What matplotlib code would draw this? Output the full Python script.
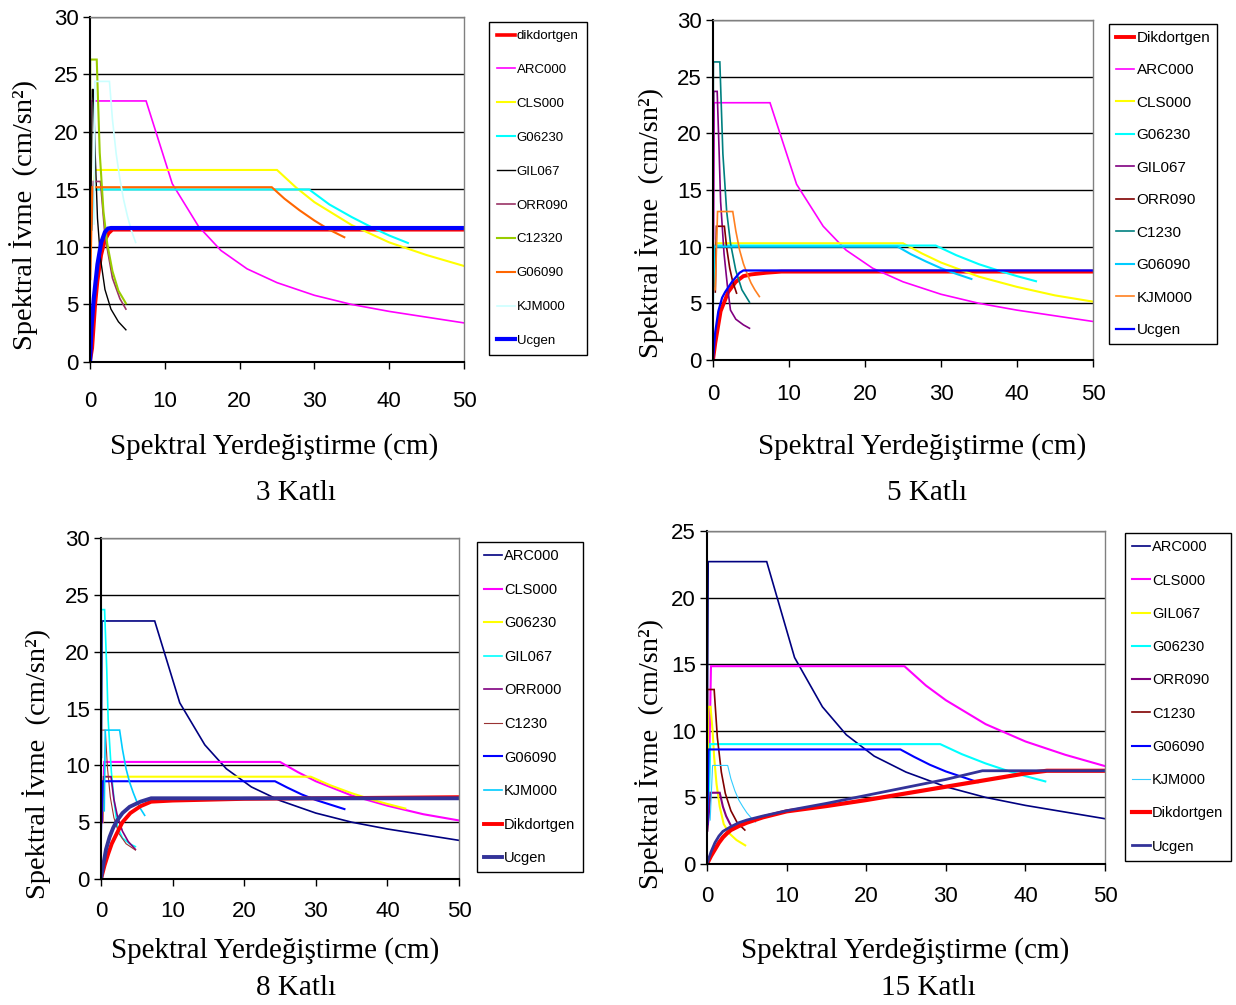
import matplotlib
matplotlib.use("Agg")
import matplotlib.pyplot as plt

# ── Figure geometry (pixels) ──────────────────────────────────────────
W, H = 1236, 1005
DPI = 100

NARROW = ["Liberation Sans Narrow", "Liberation Sans", "DejaVu Sans"]
SERIF = ["Liberation Serif", "DejaVu Serif"]

plt.rcParams["font.family"] = NARROW

XLABEL = "Spektral Yerdeğiştirme (cm)"
YLABEL = "Spektral İvme  (cm/sn²)"
TITLES = ["3 Katlı", "5 Katlı", "8 Katlı", "15 Katlı"]

# ── Data ──────────────────────────────────────────────────────────────
# ARC000 demand curve is the same in all four panels
ARC000_X = [0.05, 0.15, 7.5, 11, 14.5, 17.5, 21, 25, 30, 35, 40, 45, 50]
ARC000_Y = [10.7, 22.7, 22.7, 15.5, 11.8, 9.7, 8.1, 6.9, 5.8, 5.0, 4.4, 3.9, 3.4]

# 3 Katli
K3_DIK_X = [0, 0.3, 0.7, 1.0, 1.5, 2.0, 2.5, 3.0, 50]
K3_DIK_Y = [0, 1.2, 5.0, 7.0, 9.3, 10.6, 11.2, 11.5, 11.5]
K3_CLS000_X = [0.4, 0.7, 25, 27.5, 30, 35, 40, 45, 50]
K3_CLS000_Y = [14.5, 16.7, 16.7, 15.2, 13.9, 11.9, 10.4, 9.3, 8.35]
K3_G06230_X = [0.2, 0.5, 29.3, 32, 35, 38, 40, 42.5]
K3_G06230_Y = [11.5, 15.0, 15.0, 13.7, 12.6, 11.6, 11.0, 10.35]
K3_GIL067_X = [0.1, 0.3, 0.45, 0.7, 1.0, 1.4, 2.0, 2.8, 3.8, 4.8]
K3_GIL067_Y = [12.0, 23.7, 23.7, 18.0, 12.5, 9.0, 6.3, 4.6, 3.5, 2.8]
K3_ORR090_X = [0.2, 0.45, 1.4, 2.0, 3.0, 4.0, 4.8]
K3_ORR090_Y = [11.5, 15.7, 15.7, 11.0, 7.3, 5.5, 4.6]
K3_C12320_X = [0, 0.03, 0.9, 1.3, 1.8, 2.3, 3.0, 3.8, 4.8]
K3_C12320_Y = [11.5, 26.3, 26.3, 18.2, 13.1, 10.3, 7.9, 6.2, 5.1]
K3_G06090_X = [0.05, 0.3, 24.3, 26, 28, 30, 32, 34]
K3_G06090_Y = [7.2, 15.2, 15.2, 14.2, 13.2, 12.3, 11.5, 10.85]
K3_KJM000_X = [0.55, 0.65, 2.6, 3.0, 3.5, 4.0, 4.5, 5.0, 5.5, 6.1]
K3_KJM000_Y = [12.0, 24.4, 24.4, 21.1, 18.1, 15.9, 14.1, 12.7, 11.5, 10.4]
K3_UCGEN_X = [0, 0.2, 0.5, 1.0, 1.5, 2.0, 2.4, 2.8, 50]
K3_UCGEN_Y = [0, 3.0, 5.5, 8.5, 10.4, 11.3, 11.6, 11.65, 11.65]

# 5 Katli
K5_DIK_X = [0, 0.3, 1, 2, 3, 4, 5, 7, 9, 50]
K5_DIK_Y = [0, 1.5, 4.3, 6.0, 6.9, 7.4, 7.55, 7.7, 7.8, 7.8]
K5_CLS000_X = [0.1, 0.4, 25, 27.5, 30, 35, 40, 45, 50]
K5_CLS000_Y = [6.8, 10.3, 10.3, 9.4, 8.6, 7.35, 6.45, 5.7, 5.15]
K5_G06230_X = [0.1, 0.3, 29.3, 32, 35, 38, 40, 42.5]
K5_G06230_Y = [6.5, 10.1, 10.1, 9.25, 8.45, 7.8, 7.4, 6.95]
K5_GIL067_X = [0.05, 0.1, 0.55, 0.8, 1.0, 1.45, 1.9, 2.3, 3.0, 4.0, 4.8]
K5_GIL067_Y = [10.0, 23.7, 23.7, 18.5, 14.0, 9.4, 6.5, 4.4, 3.6, 3.1, 2.8]
K5_ORR090_X = [0.3, 0.45, 1.5, 1.8, 2.2, 2.6, 3.1]
K5_ORR090_Y = [6.0, 11.8, 11.8, 9.9, 8.1, 6.9, 5.9]
K5_C1230_X = [0, 0.05, 0.9, 1.3, 1.8, 2.3, 3.0, 3.8, 4.8]
K5_C1230_Y = [12.0, 26.3, 26.3, 18.2, 13.1, 10.3, 7.9, 6.2, 5.1]
K5_G06090_X = [0, 0.1, 24.3, 26, 28, 30, 32, 34]
K5_G06090_Y = [4.7, 10.0, 10.0, 9.35, 8.7, 8.1, 7.6, 7.15]
K5_KJM000_X = [0.3, 0.6, 2.6, 3.0, 3.5, 4.0, 4.5, 5.0, 5.5, 6.1]
K5_KJM000_Y = [6.2, 13.1, 13.1, 11.4, 9.7, 8.5, 7.6, 6.8, 6.2, 5.6]
K5_UCGEN_X = [0, 0.3, 0.7, 1.2, 1.6, 2.0, 2.5, 3.0, 3.5, 4.0, 50]
K5_UCGEN_Y = [0, 2.5, 4.3, 5.5, 6.0, 6.4, 6.9, 7.3, 7.7, 7.9, 7.9]

# 8 Katli
K8_CLS000_X = [0.2, 0.45, 25, 27.5, 30, 35, 40, 45, 50]
K8_CLS000_Y = [5.0, 10.3, 10.3, 9.4, 8.6, 7.35, 6.45, 5.7, 5.15]
K8_G06230_X = [0.2, 0.4, 29.3, 32, 35, 38, 40, 42.5]
K8_G06230_Y = [5.0, 9.0, 9.0, 8.25, 7.55, 6.95, 6.6, 6.2]
K8_GIL067_X = [0, 0.05, 0.5, 0.8, 1.0, 1.45, 1.9, 2.3, 3.0, 4.0, 4.8]
K8_GIL067_Y = [5.0, 23.7, 23.7, 18.5, 14.0, 9.4, 6.5, 4.6, 3.6, 3.1, 2.85]
K8_ORR000_X = [0.2, 0.35, 1.4, 1.8, 2.3, 3.0, 3.8, 4.8]
K8_ORR000_Y = [5.0, 9.0, 9.0, 7.0, 5.5, 4.2, 3.3, 2.6]
K8_C1230_X = [0, 0.05, 0.6, 0.9, 1.3, 1.8, 2.5, 3.5, 4.8]
K8_C1230_Y = [6.0, 13.1, 13.1, 9.8, 7.2, 5.4, 4.0, 3.1, 2.55]
K8_G06090_X = [0, 0.2, 24.3, 26, 28, 30, 32, 34]
K8_G06090_Y = [4.1, 8.6, 8.6, 8.05, 7.45, 6.95, 6.55, 6.15]
K8_KJM000_X = [0.45, 0.6, 2.6, 3.0, 3.5, 4.0, 4.5, 5.0, 5.5, 6.1]
K8_KJM000_Y = [6.0, 13.1, 13.1, 11.4, 9.7, 8.5, 7.6, 6.8, 6.2, 5.6]
K8_DIK_X = [0, 0.5, 1, 1.5, 2.2, 3, 4.1, 5.5, 7, 10, 20, 50]
K8_DIK_Y = [0, 1.2, 2.2, 3.1, 4.0, 5.0, 5.8, 6.4, 6.8, 6.9, 7.05, 7.2]
K8_UCGEN_X = [0, 0.3, 0.7, 1.2, 1.7, 2.2, 3, 4, 5.5, 7, 50]
K8_UCGEN_Y = [0, 1.2, 2.6, 3.7, 4.5, 5.1, 5.8, 6.35, 6.8, 7.1, 7.1]

# 15 Katli
K15_CLS000_X = [0.2, 0.5, 24.8, 27.5, 30, 35, 40, 45, 50]
K15_CLS000_Y = [5.0, 14.85, 14.85, 13.4, 12.3, 10.5, 9.2, 8.2, 7.35]
K15_GIL067_X = [0.05, 0.15, 0.45, 0.7, 0.9, 1.2, 1.6, 2.1, 2.8, 3.7, 4.8]
K15_GIL067_Y = [3.0, 11.8, 11.8, 10.0, 8.0, 6.0, 4.3, 3.0, 2.3, 1.8, 1.4]
K15_G06230_X = [0.2, 0.4, 29.3, 32, 35, 38, 40, 42.5]
K15_G06230_Y = [3.5, 9.0, 9.0, 8.25, 7.55, 6.95, 6.6, 6.2]
K15_ORR090_X = [0.05, 0.45, 1.6, 2.0, 2.4, 2.9, 3.3]
K15_ORR090_Y = [2.5, 5.35, 5.35, 4.3, 3.6, 3.0, 2.6]
K15_C1230_X = [0, 0.05, 0.9, 1.3, 1.8, 2.3, 3.0, 3.8, 4.75]
K15_C1230_Y = [3.0, 13.1, 13.1, 9.5, 6.9, 5.3, 4.0, 3.1, 2.55]
K15_G06090_X = [0.05, 0.2, 24.3, 26, 28, 30, 32, 34]
K15_G06090_Y = [3.0, 8.6, 8.6, 8.05, 7.45, 6.95, 6.55, 6.15]
K15_KJM000_X = [0.4, 0.7, 2.6, 3.0, 3.5, 4.0, 4.5, 5.0, 5.5, 6.1]
K15_KJM000_Y = [3.3, 7.4, 7.4, 6.4, 5.5, 4.8, 4.3, 3.85, 3.5, 3.15]
K15_DIK_X = [0, 0.5, 1, 1.5, 2, 2.5, 3, 4, 5, 7, 10, 15, 20, 25, 30, 35, 40, 42.7, 50]
K15_DIK_Y = [0, 0.6, 1.1, 1.6, 2.0, 2.3, 2.55, 2.85, 3.1, 3.5, 3.95, 4.35, 4.8, 5.3, 5.8, 6.3, 6.8, 7.0, 7.0]
K15_UCGEN_X = [0, 0.5, 1, 1.5, 2, 3, 4, 5, 7, 10, 15, 20, 25, 30, 34.6, 50]
K15_UCGEN_Y = [0, 0.9, 1.6, 2.1, 2.45, 2.8, 3.1, 3.3, 3.6, 4.0, 4.55, 5.15, 5.75, 6.35, 7.0, 7.0]

# ── Series tables: (label, x, y, colour, linewidth) ───────────────────
SERIES_3 = [
    ("dikdortgen", K3_DIK_X, K3_DIK_Y, "#FF0000", 2.6),
    ("ARC000", ARC000_X, ARC000_Y, "#FF00FF", 1.2),
    ("CLS000", K3_CLS000_X, K3_CLS000_Y, "#FFFF00", 1.5),
    ("G06230", K3_G06230_X, K3_G06230_Y, "#00FFFF", 1.5),
    ("GIL067", K3_GIL067_X, K3_GIL067_Y, "#000000", 1.0),
    ("ORR090", K3_ORR090_X, K3_ORR090_Y, "#993366", 1.2),
    ("C12320", K3_C12320_X, K3_C12320_Y, "#99CC00", 1.5),
    ("G06090", K3_G06090_X, K3_G06090_Y, "#FF6600", 1.5),
    ("KJM000", K3_KJM000_X, K3_KJM000_Y, "#CCFFFF", 1.2),
    ("Ucgen", K3_UCGEN_X, K3_UCGEN_Y, "#0000FF", 3.0),
]
SERIES_5 = [
    ("Dikdortgen", K5_DIK_X, K5_DIK_Y, "#FF0000", 2.8),
    ("ARC000", ARC000_X, ARC000_Y, "#FF00FF", 1.2),
    ("CLS000", K5_CLS000_X, K5_CLS000_Y, "#FFFF00", 1.5),
    ("G06230", K5_G06230_X, K5_G06230_Y, "#00FFFF", 1.5),
    ("GIL067", K5_GIL067_X, K5_GIL067_Y, "#800080", 1.2),
    ("ORR090", K5_ORR090_X, K5_ORR090_Y, "#800000", 1.2),
    ("C1230", K5_C1230_X, K5_C1230_Y, "#008080", 1.2),
    ("G06090", K5_G06090_X, K5_G06090_Y, "#00CCFF", 1.5),
    ("KJM000", K5_KJM000_X, K5_KJM000_Y, "#FF8020", 1.2),
    ("Ucgen", K5_UCGEN_X, K5_UCGEN_Y, "#0000FF", 1.6),
]
SERIES_8 = [
    ("ARC000", ARC000_X, ARC000_Y, "#000080", 1.2),
    ("CLS000", K8_CLS000_X, K8_CLS000_Y, "#FF00FF", 1.5),
    ("G06230", K8_G06230_X, K8_G06230_Y, "#FFFF00", 1.5),
    ("GIL067", K8_GIL067_X, K8_GIL067_Y, "#00FFFF", 1.2),
    ("ORR000", K8_ORR000_X, K8_ORR000_Y, "#800080", 1.2),
    ("C1230", K8_C1230_X, K8_C1230_Y, "#993333", 0.8),
    ("G06090", K8_G06090_X, K8_G06090_Y, "#0000FF", 1.5),
    ("KJM000", K8_KJM000_X, K8_KJM000_Y, "#00CCFF", 1.2),
    ("Dikdortgen", K8_DIK_X, K8_DIK_Y, "#FF0000", 2.8),
    ("Ucgen", K8_UCGEN_X, K8_UCGEN_Y, "#333399", 2.8),
]
SERIES_15 = [
    ("ARC000", ARC000_X, ARC000_Y, "#000080", 1.2),
    ("CLS000", K15_CLS000_X, K15_CLS000_Y, "#FF00FF", 1.5),
    ("GIL067", K15_GIL067_X, K15_GIL067_Y, "#FFFF00", 1.5),
    ("G06230", K15_G06230_X, K15_G06230_Y, "#00FFFF", 1.5),
    ("ORR090", K15_ORR090_X, K15_ORR090_Y, "#800080", 1.5),
    ("C1230", K15_C1230_X, K15_C1230_Y, "#800000", 1.2),
    ("G06090", K15_G06090_X, K15_G06090_Y, "#0000FF", 1.5),
    ("KJM000", K15_KJM000_X, K15_KJM000_Y, "#33CCFF", 0.8),
    ("Dikdortgen", K15_DIK_X, K15_DIK_Y, "#FF0000", 3.0),
    ("Ucgen", K15_UCGEN_X, K15_UCGEN_Y, "#333399", 2.0),
]

# ── Panel layout (pixels) ─────────────────────────────────────────────
PANELS = [
    dict(series=SERIES_3, rect=(90, 17, 464, 362), ymax=30, xpad=16,
         leg=(489, 22), leg_fs=9.5, leg_ls=1.64, leg_bp=0.6, leg_hl=1.35,
         ylab=(24, 215), xlab=(274, 447), title=(296, 493)),
    dict(series=SERIES_5, rect=(713, 20, 1093, 360), ymax=30, xpad=12,
         leg=(1109, 24), leg_fs=11, leg_ls=1.21, leg_bp=0.45, leg_hl=1.2,
         ylab=(650, 223), xlab=(922, 447), title=(927, 493)),
    dict(series=SERIES_8, rect=(101, 538, 459, 879), ymax=30, xpad=11,
         leg=(477, 542), leg_fs=10.5, leg_ls=1.34, leg_bp=0.5, leg_hl=1.2,
         ylab=(37, 764), xlab=(275, 951), title=(296, 988)),
    dict(series=SERIES_15, rect=(707, 531, 1105, 864), ymax=25, xpad=11,
         leg=(1125, 533), leg_fs=10.5, leg_ls=1.32, leg_bp=0.5, leg_hl=1.2,
         ylab=(650, 754), xlab=(905, 951), title=(928, 988)),
]


def fx(x):
    return x / W


def fy(y):
    return 1 - y / H


def draw_panel(fig, p, title):
    l, t, r, b = p["rect"]
    ax = fig.add_axes([fx(l), fy(b), (r - l) / W, (b - t) / H])

    for label, xs, ys, color, lw in p["series"]:
        ax.plot(xs, ys, color=color, lw=lw, label=label, solid_joinstyle="miter")

    ax.set_xlim(0, 50)
    ax.set_ylim(0, p["ymax"])
    ax.set_xticks(range(0, 51, 10))
    ax.set_yticks(range(0, p["ymax"] + 1, 5))
    ax.yaxis.grid(True, color="#000000", lw=1.0)
    ax.set_axisbelow(True)

    for side in ("left", "bottom"):
        ax.spines[side].set_color("black")
        ax.spines[side].set_linewidth(1.5)
    for side in ("top", "right"):
        ax.spines[side].set_color("#808080")
        ax.spines[side].set_linewidth(1.0)

    ax.tick_params(direction="out", length=5, width=1, labelsize=16,
                   colors="black")
    ax.tick_params(axis="x", pad=p["xpad"])
    ax.tick_params(axis="y", pad=3)

    lx, ly = p["leg"]
    leg = ax.legend(loc="upper left", bbox_to_anchor=(fx(lx), fy(ly)),
                    bbox_transform=fig.transFigure, borderaxespad=0,
                    frameon=True, fancybox=False, edgecolor="black",
                    framealpha=1, fontsize=p["leg_fs"],
                    labelspacing=p["leg_ls"], handlelength=p["leg_hl"],
                    handletextpad=0.15, borderpad=p["leg_bp"])
    leg.get_frame().set_linewidth(1.0)

    yx, yy = p["ylab"]
    fig.text(fx(yx), fy(yy), YLABEL, rotation=90, ha="center", va="center",
             fontsize=20.5, family=SERIF)
    xx, xy = p["xlab"]
    fig.text(fx(xx), fy(xy), XLABEL, ha="center", va="center",
             fontsize=21, family=SERIF)
    tx, ty = p["title"]
    fig.text(fx(tx), fy(ty), title, ha="center", va="center",
             fontsize=21, family=SERIF)
    return ax


def main():
    fig = plt.figure(figsize=(W / DPI, H / DPI), dpi=DPI)
    fig.patch.set_facecolor("white")
    for p, title in zip(PANELS, TITLES):
        draw_panel(fig, p, title)
    fig.savefig("out.png", dpi=DPI)
    plt.close(fig)


if __name__ == "__main__":
    main()
